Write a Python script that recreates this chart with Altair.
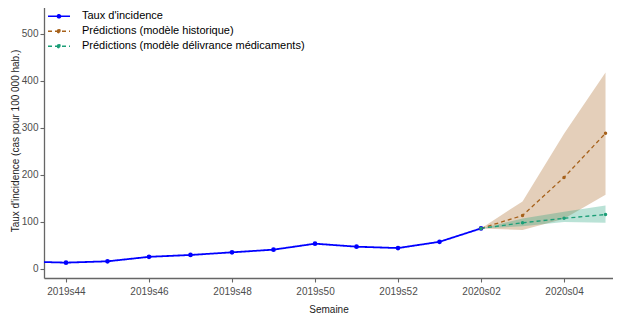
import altair as alt
import pandas as pd

weeks = ["2019s43", "2019s44", "2019s45", "2019s46", "2019s47", "2019s48", "2019s49",
         "2019s50", "2019s51", "2019s52", "2020s01", "2020s02", "2020s03", "2020s04", "2020s05"]

series_names = ["Taux d'incidence", "Prédictions (modèle historique)",
                "Prédictions (modèle délivrance médicaments)"]
series_colors = ["#0000FF", "#A6611A", "#1B9E77"]

# observed incidence 2019s43 .. 2020s02
incidence = [15, 12.7, 15.5, 25, 29, 34.6, 40.3, 53, 46.6, 43.7, 57, 85.5]

# predictions 2020s02 .. 2020s05
hist_pred = [85.5, 113, 194, 288]
hist_low = [85.5, 82, 106, 157]
hist_high = [85.5, 143, 287, 417]

med_pred = [85.5, 97.5, 107, 115]
med_low = [85.5, 90, 99, 97.5]
med_high = [85.5, 106.6, 121, 134]

rows = []
for i, v in enumerate(incidence):
    rows.append({"idx": i, "series": series_names[0], "value": v, "low": None, "high": None})
for k in range(len(hist_pred)):
    i = 11 + k
    rows.append({"idx": i, "series": series_names[1], "value": hist_pred[k],
                 "low": hist_low[k], "high": hist_high[k]})
    rows.append({"idx": i, "series": series_names[2], "value": med_pred[k],
                 "low": med_low[k], "high": med_high[k]})
df = pd.DataFrame(rows)
bands = df[df["series"] != series_names[0]]

label_expr = "[" + ",".join("'" + w + "'" for w in weeks) + "][datum.value]"

x = alt.X("idx:Q", title="Semaine",
          scale=alt.Scale(domain=[0.47, 14.18], nice=False, zero=False),
          axis=alt.Axis(values=[1, 3, 5, 7, 9, 11, 13], labelExpr=label_expr,
                        grid=False, tickSize=4, labelPadding=4, titlePadding=8,
                        labelFontSize=10, titleFontSize=10))
ytitle = "Taux d'incidence (cas pour 100 000 hab.)"
yscale = alt.Scale(domain=[-20, 565], nice=False, zero=False)
yaxis = alt.Axis(values=[0, 100, 200, 300, 400, 500], grid=False, tickSize=4,
                 labelPadding=2, titlePadding=1, labelFontSize=10, titleFontSize=10)

symbol_path = "M-1,0H1M-0.14,0A0.14,0.14,0,1,1,0.14,0A0.14,0.14,0,1,1,-0.14,0Z"
legend = alt.Legend(orient="none", legendX=3, legendY=6,
                    symbolType=symbol_path, symbolSize=484,
                    symbolStrokeWidth=1.6, symbolOpacity=1, labelFontSize=11,
                    labelOffset=11, rowPadding=0, clipHeight=14.5,
                    labelColor="#000000", labelLimit=400)
color = alt.Color("series:N", scale=alt.Scale(domain=series_names, range=series_colors),
                  sort=series_names, title=None, legend=legend)
dash = alt.StrokeDash("series:N", sort=series_names, title=None, legend=legend,
                      scale=alt.Scale(domain=series_names, range=[[1, 0], [4, 3], [4, 3]]))

band_layer = alt.Chart(bands).mark_area(opacity=0.3, clip=True).encode(
    x=x,
    y=alt.Y("low:Q", scale=yscale, axis=yaxis, title=ytitle),
    y2="high:Q",
    color=color,
)

line_layer = alt.Chart(df).mark_line(clip=True).encode(
    x=x,
    y=alt.Y("value:Q", scale=yscale, axis=yaxis, title=ytitle),
    color=color,
    strokeDash=dash,
    strokeWidth=alt.condition(alt.datum.series == series_names[0], alt.value(1.8), alt.value(1.3)),
)

point_layer = alt.Chart(df).mark_circle(opacity=1, clip=True).encode(
    x=x,
    y=alt.Y("value:Q", scale=yscale, axis=yaxis, title=ytitle),
    color=color,
    size=alt.condition(alt.datum.series == series_names[0], alt.value(22), alt.value(12)),
)

chart = alt.layer(band_layer, line_layer, point_layer).properties(
    width=569, height=275,
    autosize=alt.AutoSizeParams(type="none"),
    padding={"left": 36, "top": -5, "right": 0, "bottom": 40},
).configure_view(stroke=None).configure_axis(
    domainColor="#666666", domainWidth=1.3, tickColor="#666666", tickWidth=1.1,
    labelColor="#4D4D4D", titleColor="#222222", labelFont="Liberation Sans",
    titleFont="Liberation Sans", titleFontWeight="normal",
).configure_legend(labelFont="Liberation Sans")

chart.save("out.html", embed_options={"renderer": "svg", "actions": False})
